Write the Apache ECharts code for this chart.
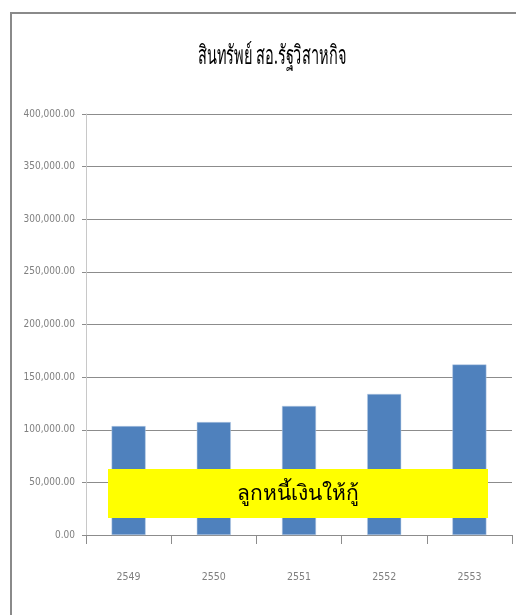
<!DOCTYPE html>
<html><head><meta charset="utf-8">
<script src="https://cdn.jsdelivr.net/npm/echarts@6/dist/echarts.min.js"></script>
<style>html,body{margin:0;padding:0;background:#fff}#c{width:516px;height:615px}</style>
</head><body><div id="c"></div>
<script>
const titleText = 'สินทรัพย์ สอ.รัฐวิสาหกิจ';
const categories = ['2549', '2550', '2551', '2552', '2553'];
const values = [103500, 107300, 122600, 134000, 162000];
const yTicks = { min: 0, max: 400000, interval: 50000 };
const overlayText = 'ลูกหนี้เงินให้กู้';

const chart = echarts.init(document.getElementById('c'), null, { renderer: 'canvas' });
const narrow = '"DejaVu Sans Condensed", "Liberation Sans Narrow", sans-serif';
chart.setOption({
  animation: false,
  grid: { left: 86, right: 4, top: 114, bottom: 80 },
  xAxis: {
    type: 'category', data: categories,
    axisLine: { lineStyle: { color: '#8c8c8c', width: 1 } },
    axisTick: { show: true, length: 9, lineStyle: { color: '#8c8c8c' } },
    axisLabel: { margin: 37, fontFamily: narrow, fontSize: 10.5, color: '#7f7f7f' }
  },
  yAxis: {
    type: 'value', min: yTicks.min, max: yTicks.max, interval: yTicks.interval,
    axisLine: { show: true, lineStyle: { color: '#c8c8c8', width: 1 } },
    axisTick: { show: true, length: 4, lineStyle: { color: '#8c8c8c' } },
    splitLine: { lineStyle: { color: '#8c8c8c', width: 1 } },
    axisLabel: {
      margin: 11, fontFamily: narrow, fontSize: 10, color: '#7f7f7f',
      formatter: v => v.toLocaleString('en-US', { minimumFractionDigits: 2, maximumFractionDigits: 2 })
    }
  },
  series: [{
    type: 'bar', data: values, barWidth: 34,
    itemStyle: { color: '#4f81bd', borderColor: '#b8cce4', borderWidth: 0.5 }
  }],
  graphic: [
    { type: 'rect', shape: { x: 11, y: 13, width: 520, height: 620 },
      style: { fill: 'none', stroke: '#8a8a8a', lineWidth: 2 }, z: 100 },
    { type: 'text', x: 272, y: 57, scaleX: 0.56, z: 100,
      style: { text: titleText, fill: '#000', fontSize: 26, fontFamily: '"Noto Sans", sans-serif',
               textAlign: 'center', textVerticalAlign: 'middle' } },
    { type: 'rect', shape: { x: 108, y: 469, width: 380, height: 49 },
      style: { fill: '#ffff00' }, z: 90 },
    { type: 'text', x: 298, y: 494, z: 91,
      style: { text: overlayText, fill: '#000', fontSize: 21, fontFamily: '"Noto Sans", sans-serif',
               textAlign: 'center', textVerticalAlign: 'middle' } }
  ]
});
</script></body></html>
